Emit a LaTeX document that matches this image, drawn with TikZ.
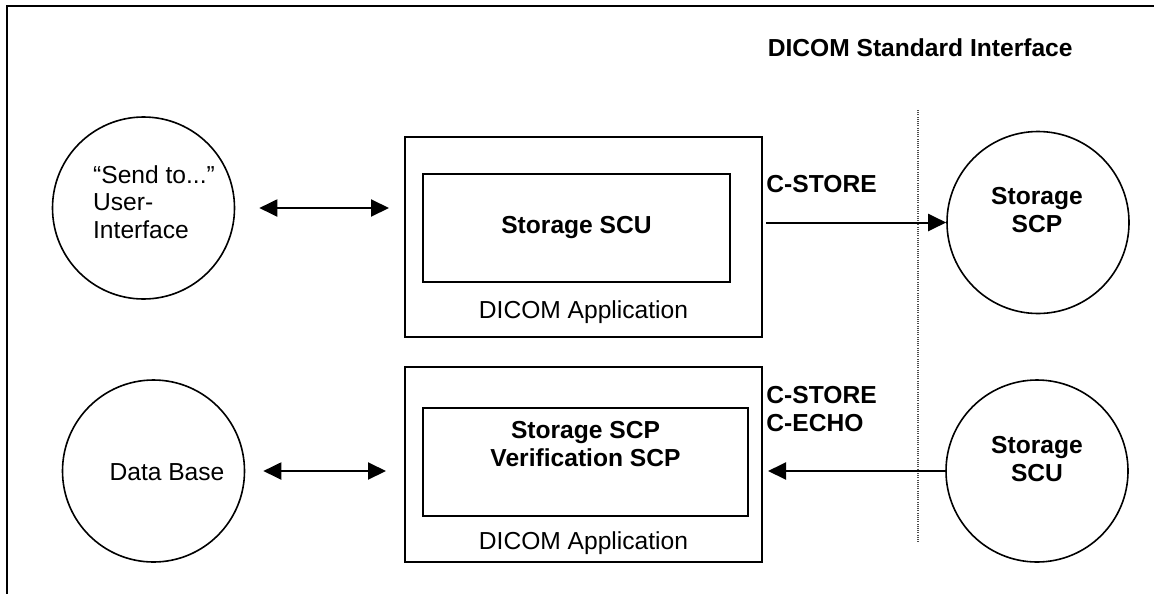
\documentclass[tikz,border=0pt]{standalone}
\usepackage{fontspec}
\setmainfont{Liberation Sans}
\usepackage{tikz}
\usetikzlibrary{arrows.meta, positioning, calc}

\begin{document}
\begin{tikzpicture}[x=0.5pt, y=-0.5pt,
        every node/.style={align=center, inner sep=0pt, font=\fontsize{12.3}{13.75}\selectfont},
        bold/.style={font=\fontsize{12.3}{13.75}\selectfont\bfseries},
        circ/.style={draw, circle, line width=0.8pt, minimum size=91pt},
        appbox/.style={draw, line width=1pt, minimum width=178.5pt},
        service/.style={draw, line width=1pt, minimum height=54pt},
        flow/.style={line width=1pt, -{Triangle[length=9pt, width=8.5pt]}},
        biflow/.style={line width=1pt, {Triangle[length=9pt, width=8.5pt]}-{Triangle[length=9pt, width=8.5pt]}},
        boundary/.style={line width=0.6pt, black!70, dash pattern=on 0.5pt off 0.6pt}
    ]
        \useasboundingbox (0,0) rectangle (1154,594);
        \draw[line width=1.2pt] (1154,6) -- (7,6) -- (7,594);
        \node[bold, anchor=east] (title) at (1073,48) {DICOM Standard Interface};

        \node[circ] (ui) at (143.5,208) {};
        \node[align=left] (uitxt) at (154,202) {``Send to...''\\User-\\Interface};
        \node[circ] (db) at (153.5,471) {};
        \node (dbtxt) at (167,472) {Data Base};

        \node[appbox, minimum height=100pt] (sendapp) at (583.5,237) {};
        \node[service, minimum width=153.5pt, bold] (scu) at (576.5,228) {Storage SCU};
        \node[above=7pt of sendapp.south] (sendlbl) {DICOM Application};

        \node[appbox, minimum height=97.5pt] (recvapp) at (583.5,464.5) {};
        \node[service, minimum width=162.5pt] (scpsrv) at (585.5,462) {};
        \node[bold, below=7pt of scpsrv.north] (scptxt) {Storage SCP\\Verification SCP};
        \node[above=4pt of recvapp.south] (recvlbl) {DICOM Application};

        \coordinate (dtop) at (918,110);
        \coordinate (dbot) at (918,542);
        \draw[boundary] (dtop) -- (dbot);

        \node[circ] (scp) at (1038,222.5) {};
        \node[bold] (scpname) at (1037,210) {Storage\\SCP};
        \node[circ] (remscu) at (1037,471) {};
        \node[bold] (remscuname) at (1037,459) {Storage\\SCU};

        \node[bold, anchor=west] (out) at (766,184) {C-STORE};
        \node[bold, anchor=west, align=left] (in) at (766,409) {C-STORE\\C-ECHO};

        \draw[biflow, shorten <=12pt, shorten >=7.5pt] (ui) -- (ui -| sendapp.west);
        \draw[biflow, shorten <=9pt, shorten >=9pt] (db) -- (db -| recvapp.west);
        \draw[flow, shorten <=1.5pt] (scp -| sendapp.east) -- (scp);
        \draw[flow, shorten >=2.5pt] (remscu) -- (remscu -| recvapp.east);
    \end{tikzpicture}
\end{document}
